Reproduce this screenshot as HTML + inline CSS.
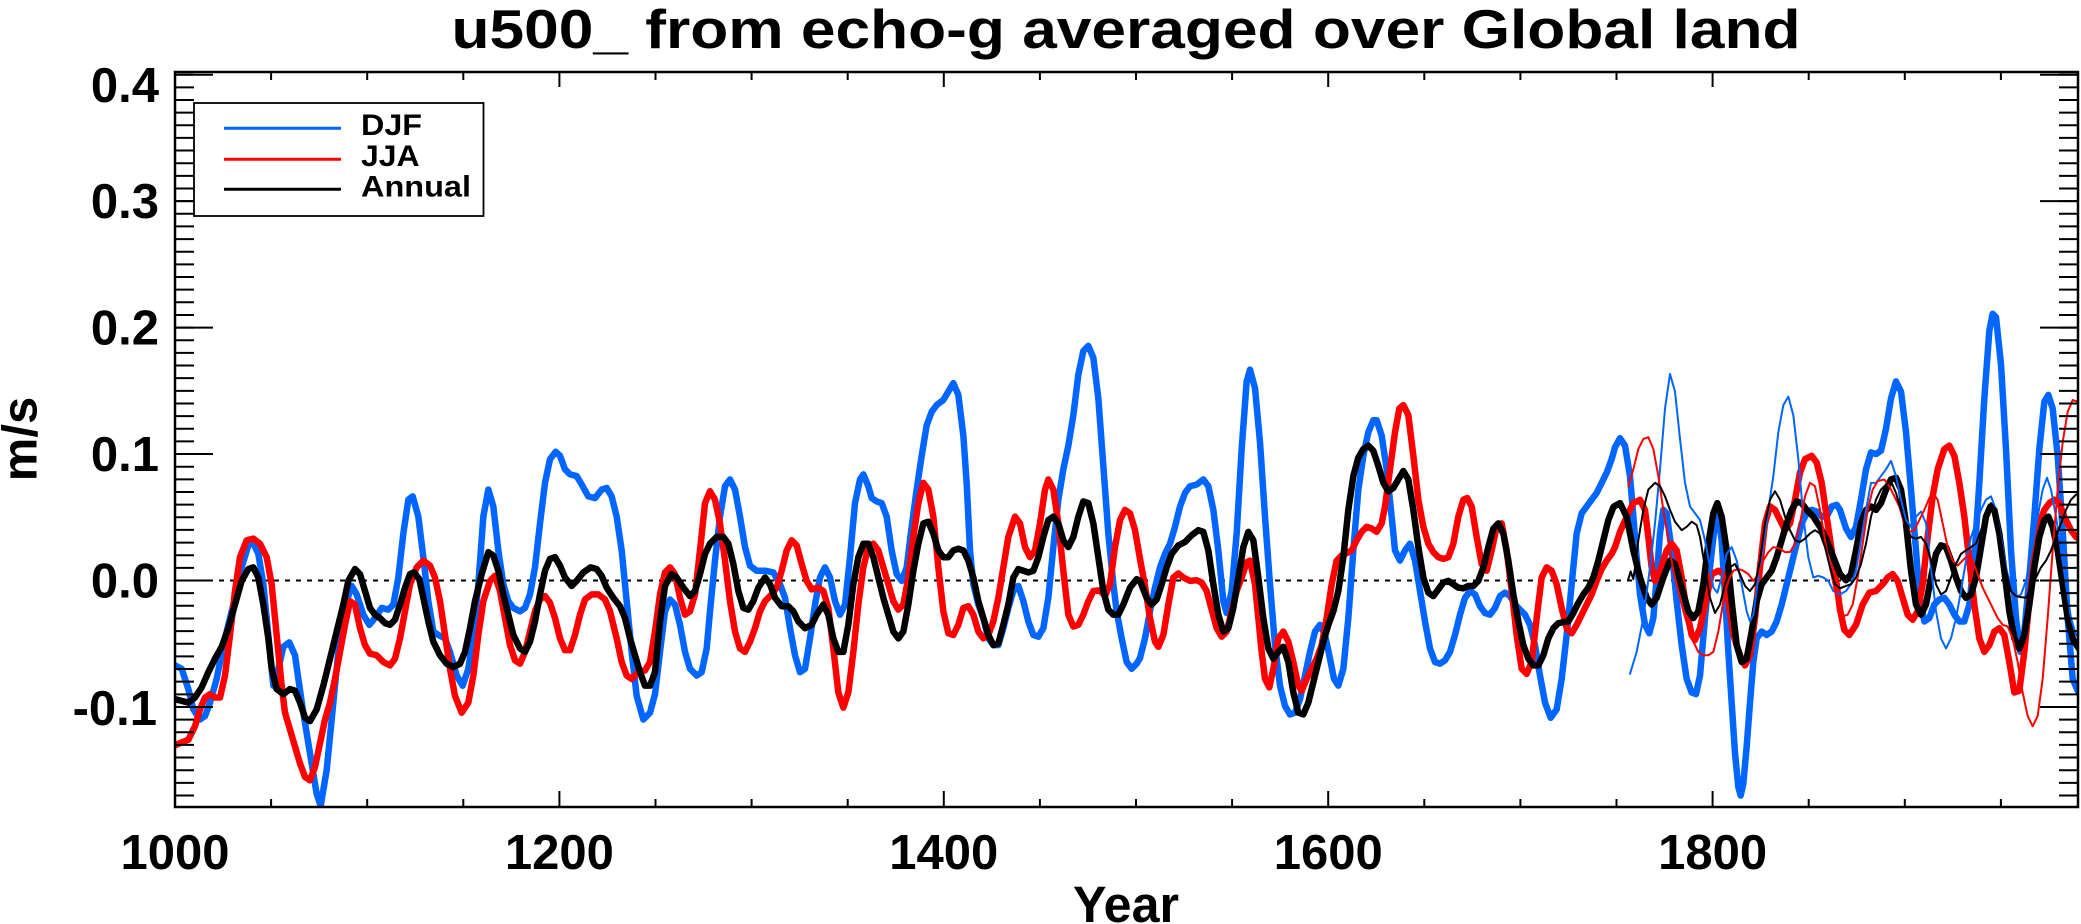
<!DOCTYPE html>
<html>
<head>
<meta charset="utf-8">
<style>
html,body{margin:0;padding:0;background:#fff;}
svg{display:block;}
text{font-family:"Liberation Sans",Arial,sans-serif;font-weight:bold;fill:#000;}
.tk{vector-effect:non-scaling-stroke;fill:none;stroke-linejoin:round;stroke-linecap:round;}
.b{stroke:#0066ff;stroke-width:6.5;}
.r{stroke:#ff0000;stroke-width:6.5;}
.k{stroke:#000;stroke-width:6.5;}
.bt{stroke:#0066ff;stroke-width:2;}
.rt{stroke:#ff0000;stroke-width:2;}
.kt{stroke:#000;stroke-width:2;}
</style>
</head>
<body>
<svg width="2081" height="924" viewBox="0 0 2081 924" xmlns="http://www.w3.org/2000/svg">
<defs>
<clipPath id="pc"><rect x="175" y="72" width="1903" height="735"/></clipPath>
</defs>
<rect width="2081" height="924" fill="#fff"/>

<!-- title -->
<text x="1126" y="48" font-size="55" text-anchor="middle" textLength="1349" lengthAdjust="spacingAndGlyphs">u500_ from echo-g averaged over Global land</text>

<!-- zero line -->
<line x1="175" y1="580.5" x2="2078" y2="580.5" stroke="#000" stroke-width="2" stroke-dasharray="5 6"/>

<g clip-path="url(#pc)">
<!-- ===== THICK DJF ===== -->
<g transform="translate(170,280) scale(0.333333,0.338066)">
<polyline class="tk b" points="15,1140 35,1150 55,1210 70,1270 90,1300 105,1290 120,1250 140,1180 160,1080 180,1000 200,920 215,850 235,785 248,775 265,810 280,900 295,1050 310,1200 325,1150 340,1085 358,1072 375,1110 385,1180 400,1280 420,1400 440,1520 452,1555 470,1450 490,1250 510,1050 530,950 545,905 560,930 580,990 598,1020 615,1000 635,970 655,975 670,960 685,880 700,750 715,650 728,640 745,700 760,820 775,950 790,1040 805,1050 825,1060 840,1100 860,1170 878,1200 895,1150 910,1050 925,900 940,700 955,620 970,670 985,800 1000,900 1015,950 1030,970 1050,980 1065,970 1080,930 1095,850 1110,720 1125,600 1140,530 1157,508 1170,520 1185,560 1200,575 1220,580 1235,605 1255,640 1275,645 1295,620 1310,615 1325,640 1340,700 1355,800 1370,950 1385,1100 1400,1230 1420,1300 1440,1280 1455,1225"/>
</g>
<g transform="translate(650,280) scale(0.333333,0.338066)">
<polyline class="tk b" points="15,1225 30,1100 45,980 60,945 75,960 90,1020 105,1100 120,1150 140,1170 155,1160 170,1090 180,980 195,830 210,700 225,610 240,590 255,620 270,700 285,790 300,845 320,860 345,860 370,865 390,900 405,940 420,1030 435,1110 450,1160 465,1150 480,1060 495,960 510,880 525,850 540,880 555,950 570,990 585,960 600,820 615,660 630,590 640,575 655,610 665,645 680,655 695,660 710,700 725,800 740,870 755,890 770,850 785,730 800,620 815,520 830,430 845,390 860,370 880,355 895,330 910,305 925,340 940,460 950,600 960,800 970,900 985,960 1000,1000 1015,1060 1030,1080 1045,1080 1060,1030 1075,970 1090,920 1105,905 1120,950 1135,1010 1150,1050 1165,1055 1180,1030 1195,940 1210,790 1225,650 1240,560 1255,490 1270,400 1285,280 1300,210 1315,195 1330,230 1345,350 1360,550 1375,750 1390,900 1400,980 1415,1060 1430,1130 1445,1150 1460,1135 1470,1118"/>
</g>
<g transform="translate(1130,280) scale(0.333333,0.338066)">
<polyline class="tk b" points="30,1118 45,1060 60,980 75,910 90,850 105,810 120,780 135,730 150,670 165,630 180,610 200,605 220,590 235,610 250,680 265,800 280,950 290,985 305,920 320,750 335,500 350,300 360,265 375,320 390,480 405,700 420,900 435,1080 450,1200 465,1260 480,1285 495,1280 510,1240 525,1170 540,1100 555,1040 570,1020 585,1050 600,1120 612,1180 625,1200 640,1150 655,1000 670,800 685,620 700,520 715,450 730,415 740,415 755,460 770,560 785,700 795,800 810,830 825,800 840,780 855,830 870,920 885,1010 900,1090 915,1130 930,1135 945,1125 960,1100 975,1050 990,990 1005,940 1020,920 1035,930 1050,965 1065,985 1080,990 1095,970 1110,935 1125,925 1140,935 1155,960 1170,975 1185,990 1200,1020 1215,1080 1230,1170 1245,1250 1262,1295 1280,1270 1295,1180 1310,1050 1325,900 1340,750 1355,690 1370,670 1385,650 1400,630 1415,600 1430,570 1445,530 1455,495"/>
</g>
<g transform="translate(1600,280) scale(0.333333,0.338066)">
<polyline class="tk b" points="45,495 60,468 75,490 90,580 100,700 110,820 120,930 135,1020 148,1045 160,1000 170,880 180,750 190,680 200,690 215,800 230,950 245,1080 260,1180 275,1220 288,1225 300,1170 315,1000 330,850 345,720 355,700 365,770 375,930 385,1100 395,1250 405,1400 415,1500 422,1525 430,1490 440,1380 450,1250 460,1130 470,1060 485,1040 500,1050 515,1040 530,1010 545,960 560,900 575,840 590,780 605,720 620,690 635,680 650,685 665,700 680,700 695,670 710,665 720,680"/>
</g>
<g transform="translate(1831,280) scale(0.333333,0.338066)">
<polyline class="tk b" points="27,680 45,735 60,760 75,730 90,650 105,560 120,510 135,515 150,505 165,440 180,350 195,300 210,330 225,450 240,620 255,800 265,930 280,1010 295,1000 310,960 325,945 340,940 355,960 370,990 385,1010 400,1010 415,960 430,820 445,600 460,350 475,150 485,100 495,110 510,250 525,500 540,800 555,1000 568,1100 580,1040 595,880 610,700 625,500 640,360 652,340 665,380 680,520 695,740 710,1000 725,1180 740,1215 744,1215"/>
</g>

<!-- ===== THICK JJA ===== -->
<g transform="translate(170,280) scale(0.333333,0.338066)">
<polyline class="tk r" points="15,1376 30,1370 55,1360 75,1320 90,1270 105,1235 120,1225 135,1235 150,1235 165,1170 180,1050 195,920 210,820 230,770 250,765 270,780 290,820 305,900 315,1000 325,1100 335,1200 345,1280 360,1330 375,1380 390,1430 405,1470 420,1480 435,1440 450,1370 465,1300 480,1250 495,1180 510,1100 525,1020 540,950 555,960 570,1030 585,1080 600,1105 620,1110 640,1130 660,1140 675,1120 690,1060 705,980 720,900 740,850 760,830 780,845 795,880 810,950 825,1050 840,1150 855,1230 875,1280 895,1250 910,1170 925,1050 940,950 960,890 975,875 990,920 1005,1000 1020,1080 1035,1125 1050,1135 1065,1100 1080,1040 1095,980 1110,945 1125,935 1140,955 1155,1000 1170,1060 1185,1095 1200,1095 1215,1050 1230,990 1245,945 1265,930 1285,930 1305,945 1320,980 1340,1060 1355,1130 1370,1170 1385,1180 1405,1160 1425,1155 1440,1130 1455,1040"/>
</g>
<g transform="translate(650,280) scale(0.333333,0.338066)">
<polyline class="tk r" points="15,1040 30,930 45,865 60,850 75,870 90,940 105,990 120,980 135,930 150,800 165,660 180,625 195,650 210,720 225,830 240,950 255,1040 270,1090 285,1100 300,1070 315,1030 330,980 345,950 365,930 380,910 395,860 410,800 425,770 440,785 455,840 470,890 485,915 505,910 520,920 535,970 550,1090 565,1220 580,1265 595,1220 610,1100 625,960 640,850 655,790 670,780 685,800 700,850 715,900 730,950 745,975 760,960 775,880 790,760 805,660 820,600 835,620 850,700 865,850 880,980 895,1045 910,1050 925,1020 940,970 955,965 970,990 985,1040 1000,1060 1015,1050 1030,1010 1045,940 1060,850 1075,760 1095,700 1110,720 1125,790 1140,820 1155,800 1170,720 1185,620 1195,590 1210,620 1225,720 1240,860 1255,990 1270,1025 1285,1020 1300,990 1315,950 1330,920 1350,918 1365,935 1380,900 1395,790 1410,710 1425,680 1440,690 1455,740 1470,825"/>
</g>
<g transform="translate(1130,280) scale(0.333333,0.338066)">
<polyline class="tk r" points="30,825 45,905 60,1000 75,1070 85,1085 100,1050 115,960 130,880 145,868 160,880 180,890 200,888 215,895 230,920 245,975 260,1030 275,1055 290,1040 305,980 320,920 335,880 350,835 360,830 375,900 385,1000 395,1100 405,1180 418,1205 430,1150 445,1060 460,1040 475,1070 490,1130 505,1200 515,1215 530,1180 545,1150 560,1120 575,1080 590,1000 605,900 620,830 635,815 650,808 665,800 680,770 695,745 710,730 725,735 740,745 755,720 765,670 780,560 795,450 808,380 820,370 835,400 850,520 865,650 880,730 895,780 910,805 925,820 940,825 955,820 970,780 985,700 1000,650 1012,645 1025,670 1040,760 1055,840 1070,860 1085,800 1100,730 1115,720 1130,800 1145,920 1160,1050 1175,1150 1190,1165 1205,1130 1220,1000 1235,880 1250,850 1265,860 1280,900 1295,970 1310,1030 1325,1045 1340,1020 1355,990 1370,960 1385,930 1400,890 1415,855 1430,830 1445,810 1455,790"/>
</g>
<g transform="translate(1600,280) scale(0.333333,0.338066)">
<polyline class="tk r" points="45,790 60,745 80,700 100,660 120,650 135,680 145,760 155,850 165,890 180,860 200,800 215,780 230,800 245,880 260,980 275,1050 285,1065 300,1030 315,960 335,870 355,860 370,870 385,950 400,1050 420,1110 435,1140 450,1110 465,1000 480,850 495,720 510,670 525,680 540,710 555,740 570,720 585,650 600,570 615,530 635,520 650,540 665,600 680,700 695,800 710,900 720,975"/>
</g>
<g transform="translate(1831,280) scale(0.333333,0.338066)">
<polyline class="tk r" points="27,975 40,1035 55,1050 75,1020 95,960 115,925 135,920 155,900 170,880 185,870 200,890 215,940 230,990 245,1005 260,980 275,900 290,760 305,640 320,560 340,500 355,490 370,520 385,600 400,700 415,830 430,960 445,1060 460,1100 475,1080 490,1040 505,1030 520,1050 535,1130 550,1220 565,1215 580,1100 595,950 610,820 625,720 640,680 655,660 670,650 685,660 700,700 720,740 735,760 744,765"/>
</g>

<!-- ===== THICK ANNUAL ===== -->
<g transform="translate(170,280) scale(0.333333,0.338066)">
<polyline class="tk k" points="15,1240 35,1245 55,1250 75,1235 95,1205 115,1160 135,1120 155,1085 175,1030 195,960 215,890 235,855 250,850 265,880 280,960 295,1060 305,1150 320,1210 340,1225 360,1210 375,1215 390,1250 405,1295 420,1305 440,1270 460,1200 480,1120 500,1040 520,960 535,890 555,855 570,870 585,920 600,970 615,990 630,1000 645,1015 660,1020 675,1005 690,960 705,910 720,870 732,865 748,885 760,940 775,1010 790,1070 810,1110 830,1135 850,1145 870,1135 885,1100 900,1030 915,950 935,870 955,805 970,815 985,860 1000,930 1015,990 1030,1050 1050,1090 1065,1100 1080,1070 1095,1010 1110,930 1125,860 1140,825 1155,820 1170,845 1185,880 1205,905 1220,890 1240,865 1262,850 1280,855 1295,875 1310,910 1330,940 1350,965 1365,1000 1380,1060 1395,1110 1410,1160 1425,1200 1440,1200 1455,1160"/>
</g>
<g transform="translate(650,280) scale(0.333333,0.338066)">
<polyline class="tk k" points="15,1160 30,1010 45,905 65,870 80,880 100,910 120,935 135,920 150,870 165,810 180,780 200,760 220,760 235,780 250,840 265,920 280,970 295,975 310,950 325,910 345,880 360,900 375,940 395,965 415,965 430,980 445,1010 465,1030 485,1020 500,990 520,960 535,990 550,1060 565,1100 580,1100 595,1020 610,900 625,820 640,780 655,780 670,820 685,880 700,940 715,990 730,1040 745,1060 760,1040 775,960 790,860 805,780 820,720 835,715 850,750 865,800 880,820 895,820 910,800 925,795 940,800 955,830 970,880 985,950 1000,1000 1015,1050 1030,1080 1045,1075 1060,1020 1075,960 1090,880 1105,855 1120,860 1135,865 1150,860 1165,820 1180,760 1195,710 1210,700 1225,720 1240,770 1255,790 1270,760 1285,700 1300,655 1315,660 1330,720 1345,820 1360,920 1375,975 1390,990 1405,990 1420,960 1440,910 1460,885 1470,890"/>
</g>
<g transform="translate(1130,280) scale(0.333333,0.338066)">
<polyline class="tk k" points="30,890 50,940 65,960 80,945 95,900 110,850 125,810 145,785 165,775 185,755 205,740 220,745 235,800 250,900 265,990 280,1040 295,1030 310,970 325,880 340,790 355,745 370,770 385,880 400,1000 415,1090 430,1120 445,1100 460,1085 475,1130 490,1220 505,1280 520,1285 535,1250 550,1190 565,1130 580,1070 595,1020 610,980 625,920 640,820 655,680 670,580 685,525 700,500 715,490 730,505 745,550 760,600 775,625 790,615 805,590 820,565 835,590 850,680 865,790 880,880 895,925 910,935 925,915 940,895 955,890 970,900 985,910 1000,912 1015,905 1030,905 1045,890 1060,850 1075,790 1090,735 1105,720 1120,750 1135,830 1150,930 1165,1010 1180,1080 1195,1120 1210,1140 1225,1140 1240,1110 1255,1060 1270,1030 1285,1015 1300,1012 1315,1010 1330,985 1345,955 1360,930 1375,910 1390,880 1405,830 1420,770 1435,710 1450,672 1455,668"/>
</g>
<g transform="translate(1600,280) scale(0.333333,0.338066)">
<polyline class="tk k" points="45,668 60,660 80,700 100,800 120,880 140,940 155,960 170,940 190,880 210,830 225,840 245,910 265,980 280,1000 295,980 310,900 325,780 340,690 352,660 365,700 380,800 395,950 410,1080 425,1130 440,1120 455,1040 470,950 485,900 500,880 515,860 530,820 545,770 560,720 575,680 590,655 605,660 620,680 640,700 660,730 680,770 700,820 720,870"/>
</g>
<g transform="translate(1831,280) scale(0.333333,0.338066)">
<polyline class="tk k" points="27,870 45,888 60,870 75,800 90,720 105,680 120,670 135,680 150,660 165,620 180,590 195,585 210,620 225,720 240,860 255,960 270,990 285,960 300,880 315,810 330,785 345,790 360,830 375,880 390,920 405,940 420,930 435,880 450,790 465,700 478,670 490,680 505,750 520,860 535,980 550,1060 565,1090 580,1050 595,960 610,850 625,760 640,710 652,700 665,730 680,800 695,900 710,1000 725,1060 740,1085 744,1090"/>
</g>

<!-- ===== THIN SERIES ===== -->
<g transform="translate(1600,280) scale(0.333333,0.338066)">
<polyline class="tk bt" points="90,1165 110,1100 130,1000 150,850 165,720 180,560 195,380 210,278 225,330 240,470 255,600 270,670 285,690 300,710 315,770 330,850 340,910 352,925 365,880 380,810 395,790 410,830 425,900 440,980 450,1010 460,990 475,880 490,780 505,680 520,580 535,450 550,370 565,345 580,400 595,530 610,700 625,820 640,880 655,875 670,880 685,890 700,920 720,930"/>
<polyline class="tk rt" points="85,610 100,560 115,500 130,470 145,465 160,500 175,580 190,680 205,770 220,860 235,920 250,980 265,1030 280,1070 295,1100 310,1110 325,1110 340,1100 355,1040 370,950 385,890 400,860 415,855 430,860 445,870 460,890 475,870 490,830 505,805 520,790 540,795 555,805 570,805 585,780 600,720 615,640 630,600 645,610 660,680 675,770 690,850 705,920 720,975"/>
<polyline class="tk kt" points="85,885 92,862 100,885 108,830 115,770 130,680 145,620 165,600 180,610 195,640 210,680 225,715 245,740 260,730 275,715 290,725 300,760 315,850 330,940 345,985 360,960 375,900 390,850 405,840 420,870 435,905 450,920 465,900 480,830 495,720 510,650 525,625 540,650 555,700 570,740 585,770 600,775 615,765 630,750 645,740 660,750 675,790 690,850 705,900 720,912"/>
</g>
<g transform="translate(1831,280) scale(0.333333,0.338066)">
<polyline class="tk bt" points="27,930 45,920 60,900 75,860 90,770 105,680 120,600 135,600 150,580 165,560 180,535 195,580 210,650 225,710 240,730 255,700 270,685 285,720 300,850 315,980 330,1060 345,1090 360,1060 375,1000 390,920 405,830 420,760 435,720 450,680 465,650 480,640 495,680 510,760 525,850 540,910 555,940 570,930 585,890 600,810 620,700 635,620 648,585 660,620 675,700 690,800 705,900 720,1000 735,1050 744,1060"/>
<polyline class="tk rt" points="27,975 35,995 50,990 65,960 80,880 95,780 110,680 125,620 140,595 160,590 175,610 190,640 205,670 220,720 235,745 250,740 265,710 280,680 295,645 305,630 320,650 335,720 350,790 365,830 380,845 395,830 410,815 425,830 440,870 455,910 470,940 485,970 500,1000 515,1020 530,1025 545,1060 560,1130 575,1220 590,1290 605,1320 620,1290 635,1180 650,1000 665,800 680,620 695,480 710,390 725,355 740,360 744,365"/>
<polyline class="tk kt" points="27,912 45,905 60,900 75,880 90,840 105,780 120,700 135,650 150,620 165,605 180,595 195,630 210,680 225,730 240,760 255,765 270,760 285,780 300,830 315,900 330,930 345,920 360,880 375,840 390,810 405,800 420,790 435,780 450,740 465,700 480,660 495,680 510,770 525,860 540,920 555,935 570,938 585,940 600,910 615,880 630,850 645,830 660,800 675,760 690,720 705,680 720,650 735,635 744,630"/>
</g>
</g>

<!-- axes frame -->
<rect x="175" y="72" width="1903" height="735" fill="none" stroke="#000" stroke-width="2.5"/>

<!-- y minor ticks (dash trick) -->
<line x1="184.5" y1="796.5" x2="184.5" y2="73" stroke="#000" stroke-width="19" stroke-dasharray="2 10.646"/>
<line x1="2068.5" y1="796.5" x2="2068.5" y2="73" stroke="#000" stroke-width="19" stroke-dasharray="2 10.646"/>
<!-- y major ticks -->
<path d="M175,74.7H213M175,201.1H213M175,327.6H213M175,454H213M175,580.5H213M175,707H213M2078,74.7H2040M2078,201.1H2040M2078,327.6H2040M2078,454H2040M2078,580.5H2040M2078,707H2040" stroke="#000" stroke-width="2"/>
<!-- x ticks bottom & top -->
<path d="M559.4,807V791M943.8,807V791M1328.2,807V791M1712.6,807V791M559.4,72V87M943.8,72V87M1328.2,72V87M1712.6,72V87" stroke="#000" stroke-width="2"/>
<path d="M271.1,807V799M367.2,807V799M463.3,807V799M655.5,807V799M751.6,807V799M847.7,807V799M1039.9,807V799M1136,807V799M1232.1,807V799M1424.3,807V799M1520.4,807V799M1616.5,807V799M1808.7,807V799M1904.8,807V799M2000.9,807V799M271.1,72V80M367.2,72V80M463.3,72V80M655.5,72V80M751.6,72V80M847.7,72V80M1039.9,72V80M1136,72V80M1232.1,72V80M1424.3,72V80M1520.4,72V80M1616.5,72V80M1808.7,72V80M1904.8,72V80M2000.9,72V80" stroke="#000" stroke-width="2"/>

<!-- y tick labels -->
<g font-size="49" text-anchor="end">
<text x="159" y="102">0.4</text>
<text x="159" y="218">0.3</text>
<text x="159" y="344.6">0.2</text>
<text x="159" y="471">0.1</text>
<text x="159" y="597.5">0.0</text>
<text x="157" y="725">-0.1</text>
</g>
<!-- x tick labels -->
<g font-size="49" text-anchor="middle">
<text x="175" y="869">1000</text>
<text x="559.4" y="869">1200</text>
<text x="943.8" y="869">1400</text>
<text x="1328.2" y="869">1600</text>
<text x="1712.6" y="869">1800</text>
</g>
<text x="1126" y="922" font-size="51" text-anchor="middle" textLength="106" lengthAdjust="spacingAndGlyphs">Year</text>
<text transform="translate(36.7,439) rotate(-90)" font-size="49" text-anchor="middle">m/s</text>

<!-- legend -->
<rect x="194" y="103" width="289.5" height="113" fill="#fff" stroke="#000" stroke-width="1.8"/>
<line x1="224" y1="128.3" x2="341" y2="128.3" stroke="#0066ff" stroke-width="3"/>
<line x1="224" y1="159.3" x2="341" y2="159.3" stroke="#ff0000" stroke-width="3"/>
<line x1="224" y1="189.3" x2="341" y2="189.3" stroke="#000" stroke-width="3"/>
<text x="361" y="135" font-size="30" textLength="61" lengthAdjust="spacingAndGlyphs">DJF</text>
<text x="361" y="166" font-size="30" textLength="58.6" lengthAdjust="spacingAndGlyphs">JJA</text>
<text x="361" y="196.7" font-size="30" textLength="110" lengthAdjust="spacingAndGlyphs">Annual</text>
</svg>
</body>
</html>
